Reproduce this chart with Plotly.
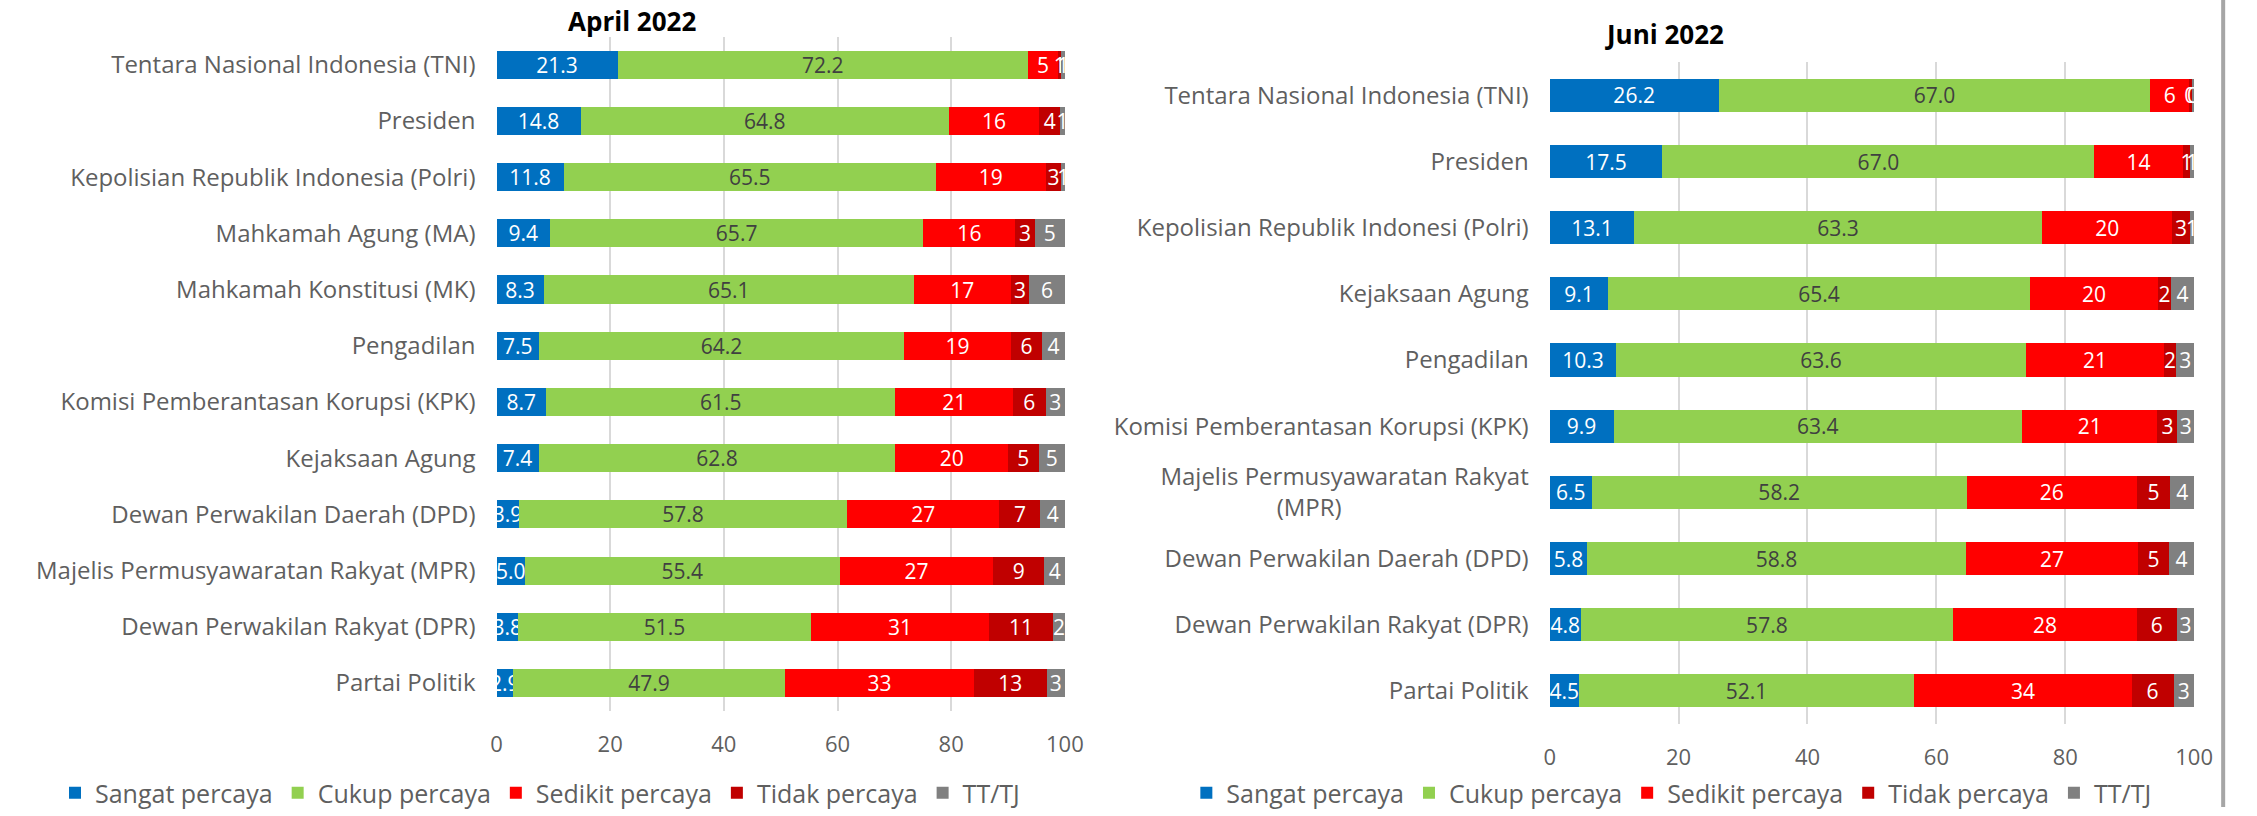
import plotly.graph_objects as go

W, H = 2257, 816

series_names = ["Sangat percaya", "Cukup percaya", "Sedikit percaya", "Tidak percaya", "TT/TJ"]
series_colors = ["#0070C0", "#92D050", "#FF0000", "#C00000", "#808080"]
text_colors = ["white", "#404040", "white", "white", "white"]
decimals = [1, 1, 0, 0, 0]

# ---- April 2022 ----
april_categories = [
    "Tentara Nasional Indonesia (TNI)",
    "Presiden",
    "Kepolisian Republik Indonesia (Polri)",
    "Mahkamah Agung (MA)",
    "Mahkamah Konstitusi (MK)",
    "Pengadilan",
    "Komisi Pemberantasan Korupsi (KPK)",
    "Kejaksaan Agung",
    "Dewan Perwakilan Daerah (DPD)",
    "Majelis Permusyawaratan Rakyat (MPR)",
    "Dewan Perwakilan Rakyat (DPR)",
    "Partai Politik",
]
april_sangat = [21.3, 14.8, 11.8, 9.4, 8.3, 7.5, 8.7, 7.4, 3.9, 5.0, 3.8, 2.9]
april_cukup = [72.2, 64.8, 65.5, 65.7, 65.1, 64.2, 61.5, 62.8, 57.8, 55.4, 51.5, 47.9]
april_sedikit = [5.3, 15.9, 19.3, 16.2, 17.1, 18.8, 20.7, 19.8, 26.8, 27.0, 31.4, 33.2]
april_tidak = [0.6, 3.7, 2.8, 3.4, 3.2, 5.5, 5.7, 5.4, 7.2, 9.0, 11.2, 12.8]
april_tttj = [0.6, 0.8, 0.6, 5.3, 6.3, 4.0, 3.4, 4.6, 4.3, 3.6, 2.1, 3.2]

# ---- Juni 2022 ----
juni_categories = [
    "Tentara Nasional Indonesia (TNI)",
    "Presiden",
    "Kepolisian Republik Indonesi (Polri)",
    "Kejaksaan Agung",
    "Pengadilan",
    "Komisi Pemberantasan Korupsi (KPK)",
    "Majelis Permusyawaratan Rakyat<br>(MPR)" + "\u00a0" * 30,
    "Dewan Perwakilan Daerah (DPD)",
    "Dewan Perwakilan Rakyat (DPR)",
    "Partai Politik",
]
juni_sangat = [26.2, 17.5, 13.1, 9.1, 10.3, 9.9, 6.5, 5.8, 4.8, 4.5]
juni_cukup = [67.0, 67.0, 63.3, 65.4, 63.6, 63.4, 58.2, 58.8, 57.8, 52.1]
juni_sedikit = [6.0, 13.7, 20.2, 19.9, 21.4, 21.0, 26.4, 26.7, 28.5, 33.7]
juni_tidak = [0.4, 1.2, 2.7, 2.0, 1.9, 3.1, 5.2, 4.8, 6.2, 6.5]
juni_tttj = [0.4, 0.6, 0.7, 3.6, 2.8, 2.6, 3.7, 3.9, 2.7, 3.2]

x_ticks = [0, 20, 40, 60, 80, 100]

FONT = "Open Sans"
LABEL_COLOR = "#5F5F5F"

fig = go.Figure()


def add_panel(cats, series_list, xaxis, yaxis, legend, showlegend=True):
    for i, vals in enumerate(series_list):
        txt = [f"{v:.{decimals[i]}f}" for v in vals]
        fig.add_trace(go.Bar(
            y=cats, x=vals, orientation="h",
            name=series_names[i],
            marker=dict(color=series_colors[i], line=dict(width=0)),
            text=txt, textposition="inside", insidetextanchor="middle",
            textangle=0, constraintext="none", cliponaxis=False,
            insidetextfont=dict(family=FONT, size=21, color=text_colors[i]),
            xaxis=xaxis, yaxis=yaxis, legend=legend, showlegend=showlegend,
            hoverinfo="skip",
        ))


add_panel(april_categories,
          [april_sangat, april_cukup, april_sedikit, april_tidak, april_tttj],
          "x", "y", "legend")
add_panel(juni_categories,
          [juni_sangat, juni_cukup, juni_sedikit, juni_tidak, juni_tttj],
          "x2", "y2", "legend2")

xcommon = dict(range=[0, 100.05], tickvals=x_ticks, showgrid=True,
               gridcolor="#D9D9D9", gridwidth=1.5, zeroline=False,
               showline=False, ticks="", ticklabelstandoff=18,
               tickfont=dict(family=FONT, size=22, color=LABEL_COLOR),
               fixedrange=True)
ycommon = dict(type="category", showgrid=False, zeroline=False, showline=False,
               ticks="", ticklabelstandoff=20,
               tickfont=dict(family=FONT, size=24, color=LABEL_COLOR),
               fixedrange=True)

fig.update_layout(
    width=W, height=H,
    margin=dict(l=0, r=0, t=0, b=0),
    paper_bgcolor="white", plot_bgcolor="white",
    barmode="stack", bargap=0.5,
    font=dict(family=FONT, color=LABEL_COLOR),
    xaxis=dict(domain=[496 / W, 1071 / W], anchor="y", **xcommon),
    yaxis=dict(domain=[1 - 719 / H, 1 - 37 / H], anchor="x",
               range=[len(april_categories) - 0.5, -0.5], **ycommon),
    xaxis2=dict(domain=[1561 / W, 2213 / W], anchor="y2", **xcommon),
    yaxis2=dict(domain=[1 - 732 / H, 1 - 63 / H], anchor="x2",
                range=[len(juni_categories) - 0.5, -0.5], **ycommon),
    legend=dict(orientation="h", x=540 / W, xanchor="center",
                y=1 - 802 / H, yanchor="middle",
                font=dict(family=FONT, size=25, color=LABEL_COLOR),
                traceorder="normal", itemwidth=30, bgcolor="rgba(0,0,0,0)"),
    legend2=dict(orientation="h", x=1684 / W, xanchor="center",
                 y=1 - 802 / H, yanchor="middle",
                 font=dict(family=FONT, size=25, color=LABEL_COLOR),
                 traceorder="normal", itemwidth=30, bgcolor="rgba(0,0,0,0)"),
    annotations=[
        dict(text="<b>April 2022</b>", x=633 / W, y=1 - 21 / H,
             xref="paper", yref="paper", showarrow=False,
             xanchor="center", yanchor="middle",
             font=dict(family=FONT, size=26, color="black")),
        dict(text="<b>Juni 2022</b>", x=1677 / W, y=1 - 34 / H,
             xref="paper", yref="paper", showarrow=False,
             xanchor="center", yanchor="middle",
             font=dict(family=FONT, size=26, color="black")),
    ],
    shapes=[
        dict(type="line", xref="paper", yref="paper",
             x0=2242 / W, x1=2242 / W, y0=0, y1=1,
             line=dict(color="#A6A6A6", width=4)),
    ],
)

fig.write_html("out.html", config={"displayModeBar": False},
               post_script="document.body.style.margin='0';")
